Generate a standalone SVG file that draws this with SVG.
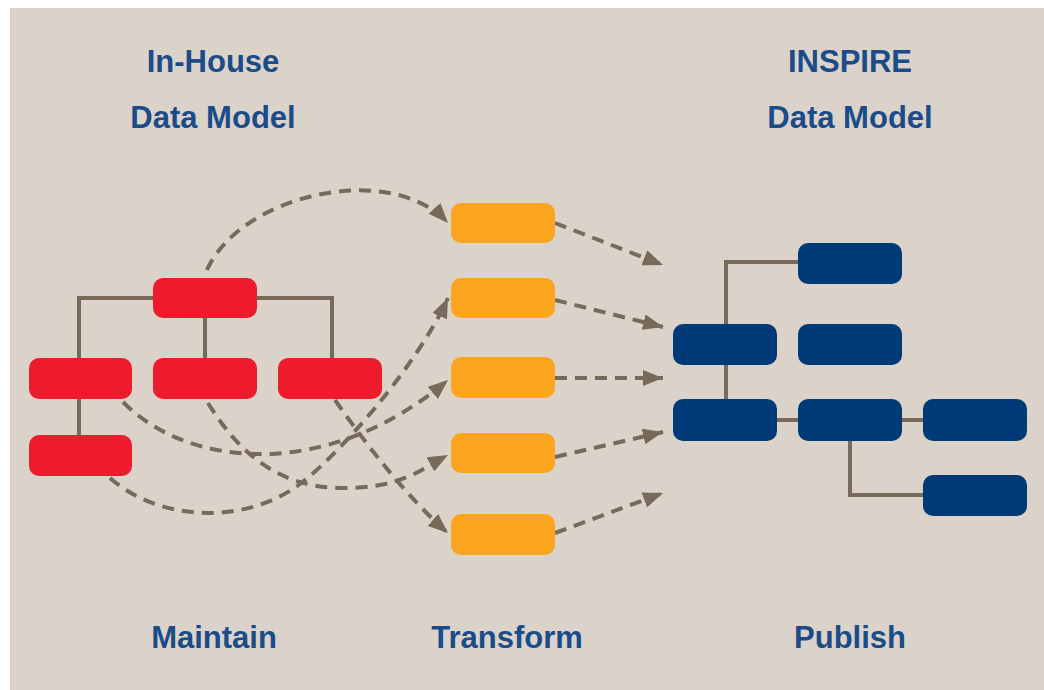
<svg xmlns="http://www.w3.org/2000/svg" width="1044" height="690" viewBox="0 0 1044 690">
<style>
.red{fill:#ed1b2b}
.org{fill:#fba51f}
.nav{fill:#003b77}
.tree{fill:none;stroke:#776a5b;stroke-width:4}
.dash{fill:none;stroke:#776a5b;stroke-width:4;stroke-dasharray:12 8;marker-end:url(#ah)}
.lbl{font-family:"Liberation Sans",Arial,sans-serif;font-weight:bold;font-size:31px;fill:#1b4c8a;text-anchor:middle}
</style>
<defs>
<marker id="ah" markerUnits="userSpaceOnUse" markerWidth="22" markerHeight="16" refX="20" refY="8" orient="auto">
<path d="M0,0 L20,8 L0,16 z" fill="#776a5b"/>
</marker>
</defs>
<rect x="0" y="0" width="1044" height="690" fill="#ffffff"/>
<rect x="10" y="8" width="1034" height="682" fill="#dbd3c9"/>

<g id="titles">
<text class="lbl" x="213" y="72">In-House</text>
<text class="lbl" x="213" y="128">Data Model</text>
<text class="lbl" x="850" y="72">INSPIRE</text>
<text class="lbl" x="850" y="128">Data Model</text>
<text class="lbl" x="214" y="648">Maintain</text>
<text class="lbl" x="507" y="648">Transform</text>
<text class="lbl" x="850" y="648">Publish</text>
</g>

<g id="tree-lines">
<path class="tree" d="M79,358 V298 H332 V358 M205,318 V358 M79,399 V435"/>
<path class="tree" d="M726,399 V262 H798 M777,420 H798 M902,420 H923 M850,441 V495 H923"/>
</g>

<g id="connectors">
<path class="dash" d="M207,270 C240,195 390,160 448,223"/>
<path class="dash" d="M123,402 C190,470 330,480 448,380"/>
<path class="dash" d="M208,403 C240,455 280,487 340,488 S420,470 448,455"/>
<path class="dash" d="M110,478 C160,522 245,525 300,484 C335,458 415,370 448,298"/>
<path class="dash" d="M335,400 C370,450 410,500 448,533"/>
<path class="dash" d="M555,223 L663,265"/>
<path class="dash" d="M555,300 L663,327"/>
<path class="dash" d="M555,378 L663,378"/>
<path class="dash" d="M555,457 L663,432"/>
<path class="dash" d="M555,533 L663,493"/>
</g>

<g id="red-root"><rect class="red" x="153" y="278" width="104" height="40" rx="10"/></g>
<g id="red-left"><rect class="red" x="29" y="358" width="103" height="41" rx="10"/></g>
<g id="red-mid"><rect class="red" x="153" y="358" width="104" height="41" rx="10"/></g>
<g id="red-right"><rect class="red" x="278" y="358" width="104" height="41" rx="10"/></g>
<g id="red-bottom"><rect class="red" x="29" y="435" width="103" height="41" rx="10"/></g>

<g id="org-1"><rect class="org" x="451" y="203" width="104" height="40" rx="10"/></g>
<g id="org-2"><rect class="org" x="451" y="278" width="104" height="40" rx="10"/></g>
<g id="org-3"><rect class="org" x="451" y="357" width="104" height="41" rx="10"/></g>
<g id="org-4"><rect class="org" x="451" y="433" width="104" height="40" rx="10"/></g>
<g id="org-5"><rect class="org" x="451" y="514" width="104" height="41" rx="10"/></g>

<g id="nav-top"><rect class="nav" x="798" y="243" width="104" height="41" rx="10"/></g>
<g id="nav-r2a"><rect class="nav" x="673" y="324" width="104" height="41" rx="10"/></g>
<g id="nav-r2b"><rect class="nav" x="798" y="324" width="104" height="41" rx="10"/></g>
<g id="nav-r3a"><rect class="nav" x="673" y="399" width="104" height="42" rx="10"/></g>
<g id="nav-r3b"><rect class="nav" x="798" y="399" width="104" height="42" rx="10"/></g>
<g id="nav-r3c"><rect class="nav" x="923" y="399" width="104" height="42" rx="10"/></g>
<g id="nav-bottom"><rect class="nav" x="923" y="475" width="104" height="41" rx="10"/></g>
</svg>
